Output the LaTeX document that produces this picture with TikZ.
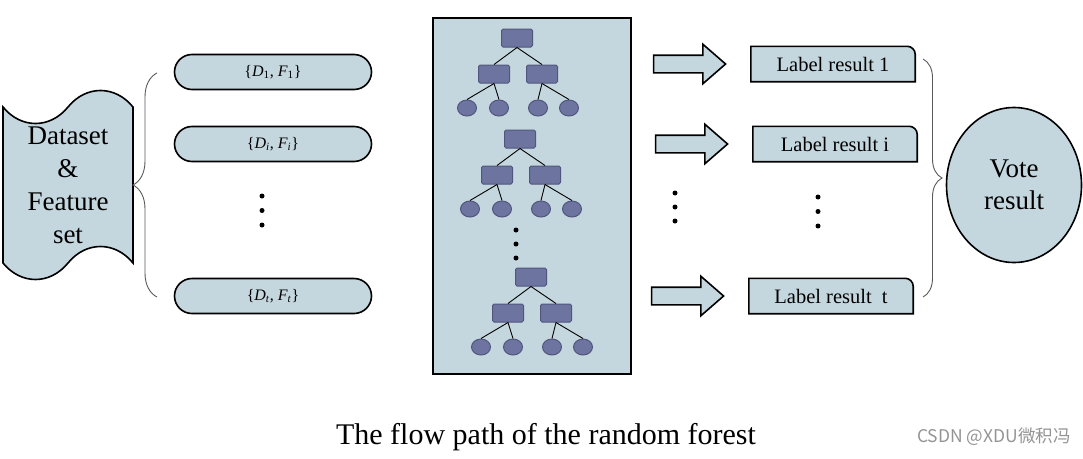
\documentclass[tikz,border=0pt]{standalone}
\usepackage{fontspec}
\setmainfont{Liberation Serif}
\newfontfamily\marksans{Noto Sans CJK SC}
\usetikzlibrary{positioning,shapes.symbols,shapes.arrows,shapes.misc,shapes.geometric,decorations.pathreplacing,backgrounds}
\definecolor{paleblue}{RGB}{197,215,222}
\definecolor{treeblue}{RGB}{110,116,160}
\definecolor{treeedge}{RGB}{80,86,125}
\tikzset{pill/.style={rounded rectangle,draw,line width=1.6pt,fill=paleblue,minimum width=197pt,minimum height=35pt,inner sep=0pt,font=\fontsize{16}{18}\selectfont},
         labelbox/.style={minimum width=164pt,minimum height=35pt,inner sep=0pt,font=\fontsize{20.5}{24}\selectfont},
         bigarrow/.style={single arrow,draw,line width=1.6pt,fill=paleblue,minimum height=72pt,inner sep=8pt,single arrow head extend=11pt,single arrow tip angle=82},
         trnode/.style={draw=treeedge,fill=treeblue,rounded corners=1.5pt,line width=1pt,minimum width=31pt,minimum height=18pt,inner sep=0pt},
         leaf/.style={ellipse,draw=treeedge,fill=treeblue,line width=1pt,minimum width=19pt,minimum height=16pt,inner sep=0pt},
         dot/.style={circle,fill,inner sep=0pt,minimum size=5pt},
         bracket/.style={decorate,draw=black!65,line width=0.9pt}
}
\tikzstyle{edge} = [line width=0.9pt]

\begin{document}
\begin{tikzpicture}[x=1pt,y=-1pt]
\useasboundingbox (0,0) rectangle (1083,458);

% data set and samples
\node[tape,draw,line width=1.6pt,fill=paleblue,minimum width=130pt,minimum height=189pt,tape bend height=33pt,inner sep=0pt,align=center,font=\fontsize{27}{33}\selectfont] (data) at (68,185) {Dataset\\\&\\Feature\\set};
\node[pill] (pill1) at (273,72) {\{\textit{D}\textsubscript{1}, \textit{F}\textsubscript{1}\}};
\node[pill] (pilli) at (273,144) {\{\textit{D}\textsubscript{\textit{i}}, \textit{F}\textsubscript{\textit{i}}\}};
\node[pill] (pillt) at (273,296) {\{\textit{D}\textsubscript{\textit{t}}, \textit{F}\textsubscript{\textit{t}}\}};
\foreach \k in {0,1,2} \node[dot] (ldot\k) at (262,196+14.5*\k) {};
\coordinate (lbtop) at (157,73);
\coordinate (lbbot) at (157,297);
\draw[bracket,decoration={brace,amplitude=24pt}] (lbbot) -- (lbtop);

% forest
\node[draw,line width=2pt,fill=paleblue,minimum width=198pt,minimum height=356pt] (forest) at (532,196) {};
\foreach \t/\x/\y in {a/517/38,b/520/139,c/531/277}{
  \node[trnode] (root\t) at (\x,\y) {};
  \node[trnode] (left\t) at (\x-23,\y+36) {};
  \node[trnode] (right\t) at (\x+25,\y+36) {};
  \node[leaf] (leaf\t1) at (\x-50,\y+70) {};
  \node[leaf] (leaf\t2) at (\x-18,\y+70) {};
  \node[leaf] (leaf\t3) at (\x+21,\y+70) {};
  \node[leaf] (leaf\t4) at (\x+52,\y+70) {};
  \draw[edge] (root\t.south) -- (left\t.north);
  \draw[edge] (root\t.south) -- (right\t.north);
  \draw[edge] (left\t.south) -- (leaf\t1.north);
  \draw[edge] (left\t.south) -- (leaf\t2.north);
  \draw[edge] (right\t.south) -- (leaf\t3.north);
  \draw[edge] (right\t.south) -- (leaf\t4.north);
}
\foreach \k in {0,1,2} \node[dot] (mdot\k) at (516,230+14*\k) {};

% results
\node[labelbox] (lab1) at (833,64) {Label result 1};
\node[labelbox] (labi) at (835,144) {Label result i};
\node[labelbox] (labt) at (831,296) {Label result\ \ t};
\begin{scope}[on background layer]
\foreach \n in {lab1,labi,labt}
  \draw[line width=1.6pt,fill=paleblue] (\n.south west) -- (\n.north west) -- ([xshift=-8pt]\n.north east) arc[start angle=90,end angle=0,radius=8pt] -- (\n.south east) -- cycle;
\end{scope}
\node[bigarrow,left=24pt of lab1] (arr1) {};
\node[bigarrow,left=24pt of labi] (arri) {};
\node[bigarrow,left=24pt of labt] (arrt) {};
\foreach \k in {0,1,2} \node[dot] (adot\k) at (675,193+14*\k) {};
\foreach \k in {0,1,2} \node[dot] (rdot\k) at (818,197+14.5*\k) {};
\coordinate (rbtop) at (923,59);
\coordinate (rbbot) at (923,297);
\draw[bracket,decoration={brace,amplitude=19pt}] (rbtop) -- (rbbot);
\node[ellipse,draw,line width=1.6pt,fill=paleblue,minimum width=135pt,minimum height=155pt,inner sep=0pt,align=center,font=\fontsize{27}{32}\selectfont] (vote) at (1014,185) {Vote\\result};

% caption
\node[font=\fontsize{30}{34}\selectfont] (caption) at (546,437) {The flow path of the random forest};
\node[text=black!42,font=\marksans\fontsize{17.5}{20}\selectfont] (mark) at (994,437) {CSDN @XDU微积冯};

\end{tikzpicture}
\end{document}
